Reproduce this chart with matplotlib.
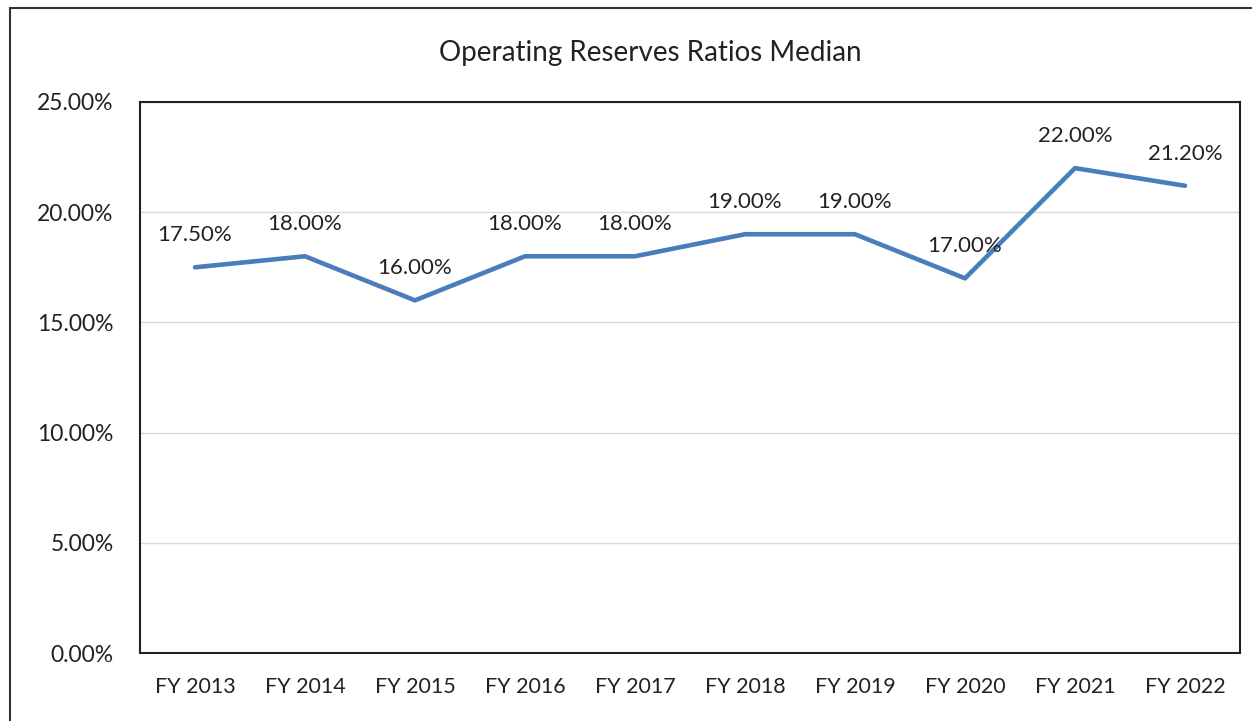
import matplotlib.pyplot as plt
from matplotlib.patches import Rectangle
from matplotlib.ticker import FuncFormatter

years = ['FY 2013', 'FY 2014', 'FY 2015', 'FY 2016', 'FY 2017',
         'FY 2018', 'FY 2019', 'FY 2020', 'FY 2021', 'FY 2022']
ratios = [17.5, 18.0, 16.0, 18.0, 18.0, 19.0, 19.0, 17.0, 22.0, 21.2]
y_ticks = [0, 5, 10, 15, 20, 25]

plt.rcParams['font.family'] = ['Lato', 'DejaVu Sans']

W, H = 1252, 721
fig = plt.figure(figsize=(W / 100, H / 100), dpi=100)
fig.patch.set_facecolor('white')

# outer chart border (runs off right/bottom edge in reference)
fig.patches.append(Rectangle((10 / W, -0.1), 1.2, 1 - 8 / H + 0.1,
                             transform=fig.transFigure, fill=False,
                             edgecolor='#333333', linewidth=1.5))

ax = fig.add_axes([140 / W, 1 - 653 / H, 1100 / W, 551 / H])
x = list(range(len(years)))
ax.plot(x, ratios, color='#4a7ebb', linewidth=3.3, solid_capstyle='round',
        solid_joinstyle='round', zorder=3)

for xi, v in zip(x, ratios):
    ax.annotate(f'{v:.2f}%', (xi, v), xytext=(0, 23), textcoords='offset points',
                ha='center', va='center', fontsize=16, color='#222222')

ax.set_xlim(-0.5, len(years) - 0.5)
ax.set_ylim(0, 25)
ax.set_yticks(y_ticks)
ax.yaxis.set_major_formatter(FuncFormatter(lambda v, p: f'{v:.2f}%'))
ax.set_xticks(x)
ax.set_xticklabels(years)
ax.tick_params(axis='both', length=0, colors='#222222')
ax.tick_params(axis='y', pad=19, labelsize=16.5)
ax.tick_params(axis='x', pad=17, labelsize=15.5)
ax.grid(axis='y', color='#d9d9d9', linewidth=1)
ax.set_axisbelow(True)
for s in ax.spines.values():
    s.set_color('#222222')
    s.set_linewidth(1.5)

fig.text(650 / W, 1 - 53 / H, 'Operating Reserves Ratios Median',
         ha='center', va='center', fontsize=20, color='#222222')

fig.savefig('out.png', dpi=100)
